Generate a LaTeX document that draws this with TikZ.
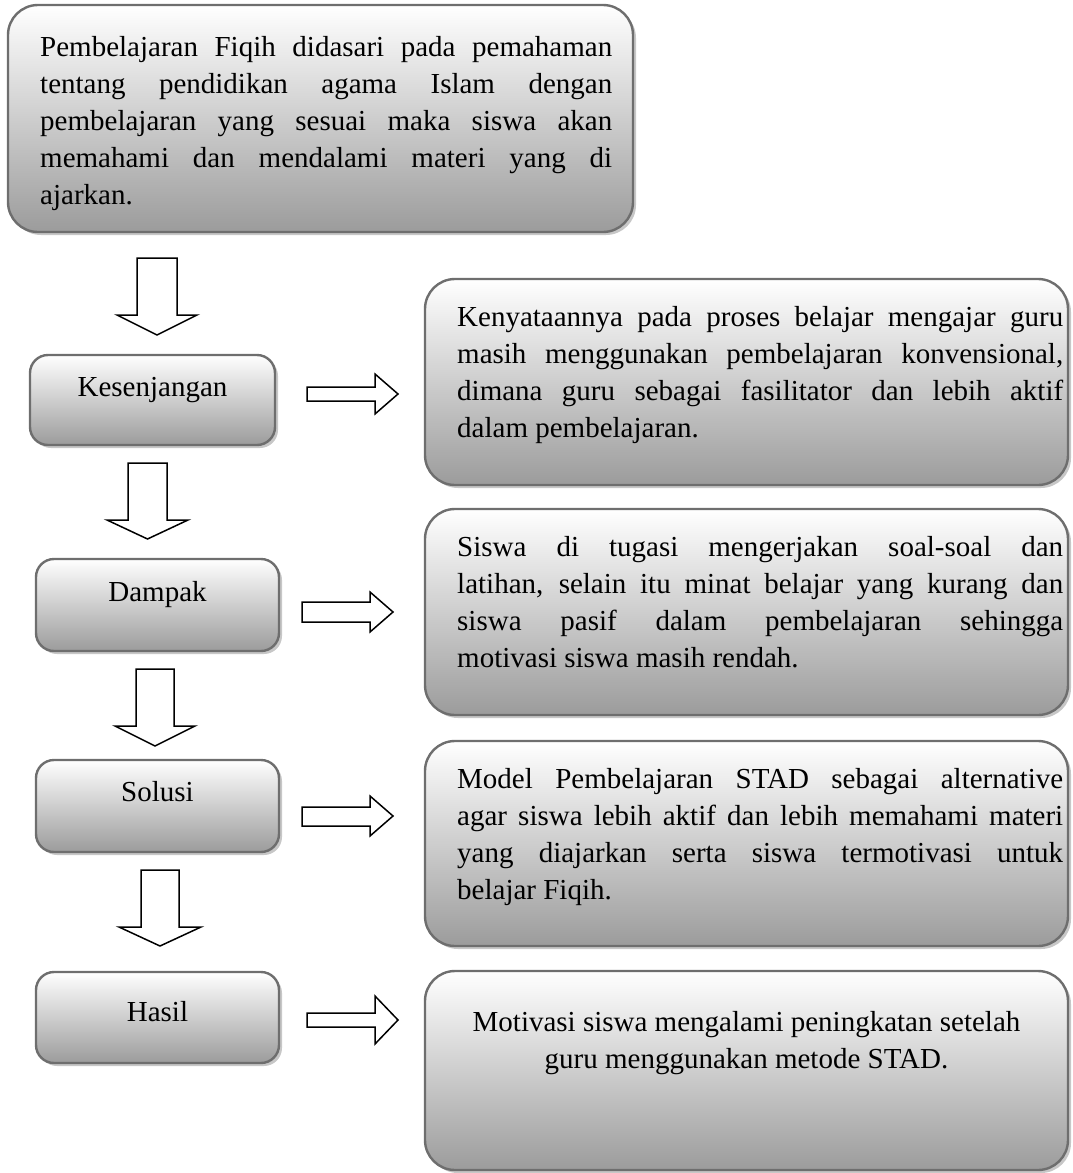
\documentclass[tikz,border=0pt]{standalone}
\usepackage{fontspec}
\setmainfont{Liberation Serif}
\usetikzlibrary{shadows}
\definecolor{boxborder}{HTML}{6E6E6E}
\newcommand\nohyph{\hyphenpenalty=10000 \exhyphenpenalty=10000 \tolerance=10000 }
\tikzset{
  boxbase/.style={draw=boxborder, line width=2.4pt, inner sep=0pt,
    top color=white, bottom color=black!39,
    general shadow={fill=black!22, shadow xshift=3pt, shadow yshift=-3pt}},
  bigbox/.style={boxbase, rounded corners=30pt},
  smallbox/.style={boxbase, rounded corners=18pt},
  bodytext/.style={inner sep=0pt, anchor=base west, align=justify,
    font=\fontsize{29}{37}\selectfont},
  centertext/.style={inner sep=0pt, anchor=base, align=center,
    font=\fontsize{29}{37}\selectfont},
  labeltext/.style={inner sep=0pt, anchor=base, font=\fontsize{29}{37}\selectfont},
  blockarrow/.style={draw=black, fill=white, line width=1.5pt, line join=miter}
}
\newcommand\DArrow[7]{% shaft-left shaft-right head-left head-right top wing tip
  \draw[blockarrow] (#1,#5) -- (#2,#5) -- (#2,#6) -- (#4,#6) -- ({(#3+#4)/2},#7) -- (#3,#6) -- (#1,#6) -- cycle;}
\newcommand\RArrow[7]{% left head-x tip-x shaft-top shaft-bottom head-top head-bottom
  \draw[blockarrow] (#1,#4) -- (#2,#4) -- (#2,#6) -- (#3,{(#6+#7)/2}) -- (#2,#7) -- (#2,#5) -- (#1,#5) -- cycle;}
\begin{document}
\begin{tikzpicture}[x=1pt,y=-1pt]
\useasboundingbox (0,0) rectangle (1072,1173);

% boxes
\node[bigbox, minimum width=625pt, minimum height=227pt] (top) at (320.5,118.5) {};
\node[bigbox, minimum width=643pt, minimum height=206pt] (r1) at (746.5,382) {};
\node[bigbox, minimum width=643pt, minimum height=206pt] (r2) at (746.5,612) {};
\node[bigbox, minimum width=643pt, minimum height=205pt] (r3) at (746.5,843.5) {};
\node[bigbox, minimum width=643pt, minimum height=199pt] (r4) at (746.5,1070.5) {};
\node[smallbox, minimum width=245pt, minimum height=90pt] (k) at (152.5,400) {};
\node[smallbox, minimum width=243pt, minimum height=92pt] (d) at (157.5,605) {};
\node[smallbox, minimum width=243pt, minimum height=92pt] (s) at (157.5,806) {};
\node[smallbox, minimum width=243pt, minimum height=91pt] (h) at (157.5,1017.5) {};

% texts
\node[bodytext, text width=572pt] (toptext) at (40,56) {\nohyph Pembelajaran Fiqih didasari pada pemahaman\linebreak tentang pendidikan agama Islam dengan\linebreak pembelajaran yang sesuai maka siswa akan\linebreak memahami dan mendalami materi yang di\linebreak ajarkan.};
\node[bodytext, text width=606pt] (r1text) at (457,326) {\nohyph Kenyataannya pada proses belajar mengajar guru\linebreak masih menggunakan pembelajaran konvensional,\linebreak dimana guru sebagai fasilitator dan lebih aktif\linebreak dalam pembelajaran.};
\node[bodytext, text width=606pt] (r2text) at (457,556) {\nohyph Siswa di tugasi mengerjakan soal-soal dan\linebreak latihan, selain itu minat belajar yang kurang dan\linebreak siswa pasif dalam pembelajaran sehingga\linebreak motivasi siswa masih rendah.};
\node[bodytext, text width=606pt] (r3text) at (457,788) {\nohyph Model Pembelajaran STAD sebagai alternative\linebreak agar siswa lebih aktif dan lebih memahami materi\linebreak yang diajarkan serta siswa termotivasi untuk\linebreak belajar Fiqih.};
\node[centertext] (r4text) at (746.5,1068) {Motivasi siswa mengalami peningkatan setelah\\guru menggunakan metode STAD.};

\node[labeltext] (ktext) at (152.5,396) {Kesenjangan};
\node[labeltext] (dtext) at (157.5,601) {Dampak};
\node[labeltext] (stext) at (157.5,801) {Solusi};
\node[labeltext] (htext) at (157.5,1021) {Hasil};

% down arrows
\DArrow{137}{177}{117}{197}{258}{315}{335}
\DArrow{128}{167}{107}{188}{463}{520}{539}
\DArrow{136}{174}{115}{195}{669}{726}{746}
\DArrow{141}{179}{119}{201}{870}{927}{946}

% right arrows
\RArrow{307}{375}{398}{387}{401}{374}{414}
\RArrow{302}{370}{393}{602}{622}{592}{632}
\RArrow{302}{370}{393}{807}{826}{796}{836}
\RArrow{307}{375}{398}{1013}{1027}{996}{1044}
\end{tikzpicture}
\end{document}
